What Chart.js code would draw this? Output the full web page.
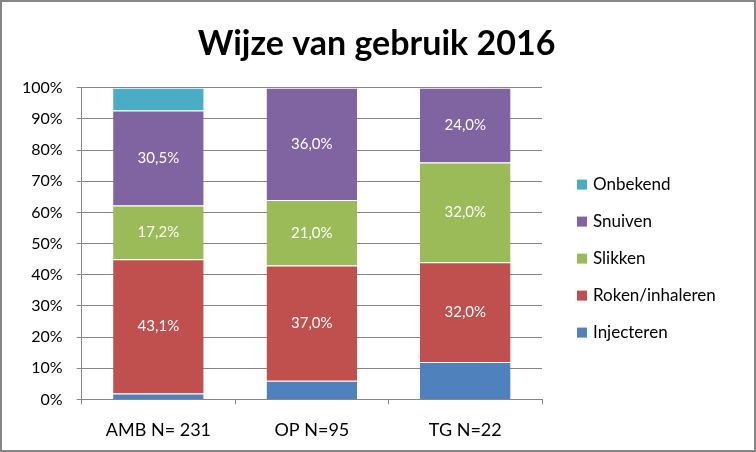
<!DOCTYPE html>
<html>
<head>
<meta charset="utf-8">
<script src="https://cdn.jsdelivr.net/npm/chart.js@4/dist/chart.umd.min.js"></script>
<style>
  html, body { margin: 0; padding: 0; background: #fff; }
  #kader { width: 756px; height: 452px; box-sizing: border-box; border: 2px solid #868686; }
  #grafiek { display: block; }
</style>
</head>
<body>
<div id="kader"><canvas id="grafiek" width="752" height="448"></canvas></div>
<script>
// Gegevens
const categorieen = ['AMB N= 231', 'OP N=95', 'TG N=22'];
const injecteren = [1.9, 6.0, 12.0];
const roken = [43.1, 37.0, 32.0];
const slikken = [17.2, 21.0, 32.0];
const snuiven = [30.5, 36.0, 24.0];
const onbekend = [7.3, 0, 0];
const yTicks = [0, 10, 20, 30, 40, 50, 60, 70, 80, 90, 100];

const lettertype = 'Lato, "Open Sans", sans-serif';

// Labels in de segmenten (alleen voor sommige reeksen)
const segmentLabels = {
    id: 'segmentLabels',
    afterDatasetsDraw(chart) {
        const ctx = chart.ctx;
        ctx.save();
        ctx.fillStyle = '#fff';
        ctx.font = '15px ' + lettertype;
        ctx.textAlign = 'center';
        ctx.textBaseline = 'middle';
        chart.data.datasets.forEach((ds, i) => {
            if (!ds.toonLabel) return;
            chart.getDatasetMeta(i).data.forEach((bar, j) => {
                const v = ds.data[j];
                const midden = (bar.y + bar.base) / 2;
                ctx.fillText(v.toFixed(1).replace('.', ',') + '%', bar.x, midden);
            });
        });
        ctx.restore();
    }
};

// Eigen legenda rechts (omgekeerde volgorde, zoals in Excel)
const legendaRechts = {
    id: 'legendaRechts',
    afterDraw(chart) {
        const ctx = chart.ctx;
        const area = chart.chartArea;
        const items = chart.data.datasets.slice().reverse();
        const afstand = 37;
        const midden = (area.top + area.bottom) / 2 + 15;
        const startY = midden - afstand * (items.length - 1) / 2;
        const x = area.right + 35;
        ctx.save();
        ctx.font = '17px ' + lettertype;
        ctx.textAlign = 'left';
        ctx.textBaseline = 'middle';
        items.forEach((ds, i) => {
            const y = startY + i * afstand;
            ctx.fillStyle = ds.backgroundColor;
            ctx.fillRect(x, y - 5, 10, 10);
            ctx.fillStyle = '#000';
            ctx.fillText(ds.label, x + 16, y);
        });
        ctx.restore();
    }
};

function reeks(label, data, kleur, toonLabel) {
    return {
        label: label,
        data: data,
        backgroundColor: kleur,
        borderColor: '#fff',
        borderWidth: { top: 1, left: 0, right: 0, bottom: 0 },
        borderSkipped: false,
        toonLabel: toonLabel
    };
}

new Chart(document.getElementById('grafiek'), {
    type: 'bar',
    data: {
        labels: categorieen,
        datasets: [
            reeks('Injecteren', injecteren, '#4F81BD', false),
            reeks('Roken/inhaleren', roken, '#C0504D', true),
            reeks('Slikken', slikken, '#9BBB59', true),
            reeks('Snuiven', snuiven, '#8064A2', true),
            reeks('Onbekend', onbekend, '#4BACC6', false)
        ]
    },
    options: {
        responsive: false,
        animation: false,
        datasets: { bar: { categoryPercentage: 1, barPercentage: 0.59 } },
        layout: { padding: { left: 6, right: 9, top: 0, bottom: -6 } },
        plugins: {
            title: {
                display: true,
                text: 'Wijze van gebruik 2016',
                color: '#000',
                font: { family: lettertype, size: 34, weight: 'bold' },
                padding: { top: 22, bottom: 23 }
            },
            legend: { display: false },
            tooltip: { enabled: false }
        },
        scales: {
            x: {
                stacked: true,
                grid: { drawOnChartArea: false, drawTicks: true, tickLength: 5, offset: true, color: '#868686' },
                border: { color: '#868686' },
                ticks: { color: '#000', font: { family: lettertype, size: 18 }, padding: 15 }
            },
            y: {
                stacked: true,
                min: 0,
                max: 100,
                afterBuildTicks: (axis) => { axis.ticks = yTicks.map(v => ({ value: v })); },
                grid: { color: '#868686', tickLength: 5 },
                border: { color: '#868686' },
                ticks: {
                    color: '#000',
                    font: { family: lettertype, size: 16 },
                    padding: 14,
                    callback: (v) => v + '%'
                }
            },
            // lege as rechts: ruimte voor de legenda
            ruimte: {
                position: 'right',
                grid: { display: false, drawTicks: false },
                border: { display: false },
                ticks: { display: false },
                afterFit: (as) => { as.width = 203; }
            }
        }
    },
    plugins: [segmentLabels, legendaRechts]
});
</script>
</body>
</html>
